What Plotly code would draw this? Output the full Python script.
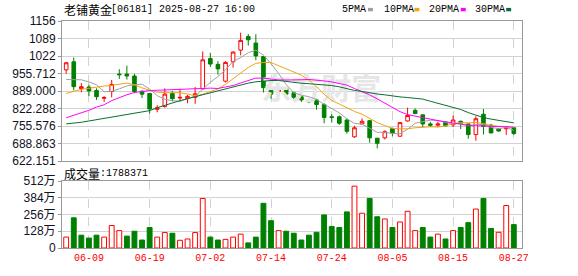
import plotly.graph_objects as go

# ---------------- data ----------------
dates = ["06-04", "06-05", "06-06", "06-09", "06-10", "06-11", "06-12", "06-13", "06-16", "06-17",
         "06-18", "06-19", "06-20", "06-23", "06-24", "06-25", "06-26", "06-27", "06-30", "07-02",
         "07-03", "07-04", "07-07", "07-08", "07-09", "07-10", "07-11", "07-14", "07-15", "07-16",
         "07-17", "07-18", "07-21", "07-22", "07-23", "07-24", "07-25", "07-28", "07-29", "07-30",
         "07-31", "08-01", "08-04", "08-05", "08-06", "08-07", "08-08", "08-11", "08-12", "08-13",
         "08-14", "08-15", "08-18", "08-19", "08-20", "08-21", "08-22", "08-25", "08-26", "08-27"]

opens = [969.8, 1000.6, 898.4, 904.5, 891.0, 862.0, 887.3, 953.8, 953.8, 946.4,
         888.5, 879.9, 819.5, 830.6, 880.0, 862.7, 860.2, 865.1, 897.2, 1013.0,
         990.8, 926.7, 1000.6, 1045.0, 1096.7, 1072.0, 1020.4, 892.2, 887.0, 899.6,
         882.4, 867.6, 855.3, 855.3, 838.0, 791.0, 791.2, 778.9, 714.8, 764.0,
         776.4, 709.9, 711.0, 746.9, 717.3, 775.2, 815.8, 798.6, 764.0, 759.0,
         771.5, 760.4, 774.0, 764.0, 723.4, 801.0, 759.2, 744.4, 745.6, 749.3]
highs = [1000.0, 1016.7, 919.3, 914.4, 899.6, 870.0, 931.6, 972.3, 985.8, 955.0,
         892.0, 882.4, 835.6, 899.6, 889.8, 897.2, 874.9, 904.5, 1040.0, 1035.0,
         1003.0, 1003.0, 1040.0, 1111.5, 1106.6, 1105.4, 1022.0, 902.0, 902.0, 904.5,
         887.3, 872.5, 860.2, 860.2, 843.0, 801.0, 796.0, 785.0, 756.7, 785.0,
         779.0, 710.0, 739.4, 749.3, 771.5, 825.7, 823.2, 798.6, 771.5, 772.7,
         771.5, 796.1, 776.4, 764.0, 793.6, 820.8, 764.0, 746.9, 749.3, 749.3]
lows = [955.0, 892.0, 884.8, 870.0, 855.3, 847.8, 865.0, 935.3, 932.8, 881.0,
        862.8, 803.5, 808.4, 825.7, 850.3, 855.3, 842.9, 840.5, 895.0, 980.8,
        951.4, 922.0, 978.5, 1025.3, 1062.2, 1006.8, 883.6, 859.0, 870.0, 859.0,
        852.8, 847.9, 842.9, 818.3, 766.6, 769.0, 760.4, 727.0, 711.0, 764.0,
        692.8, 670.8, 705.0, 717.3, 714.8, 772.7, 801.0, 751.8, 751.8, 751.8,
        754.0, 751.8, 744.4, 707.4, 700.0, 723.4, 729.6, 734.5, 722.2, 722.2]
closes = [996.9, 905.8, 905.8, 889.8, 867.6, 864.0, 914.4, 951.4, 946.4, 887.3,
          877.4, 820.8, 825.7, 877.4, 860.2, 865.0, 868.8, 878.7, 1008.0, 992.0,
          973.5, 998.2, 1037.6, 1082.0, 1084.4, 1022.8, 902.0, 877.4, 892.0, 877.4,
          865.1, 855.3, 847.9, 838.0, 788.8, 788.8, 766.6, 735.8, 749.3, 774.0,
          711.0, 690.2, 734.5, 729.6, 769.0, 796.1, 803.5, 764.0, 759.0, 764.0,
          756.7, 778.9, 766.6, 723.4, 783.8, 754.2, 729.6, 737.0, 749.3, 727.2]

# volume in shares
volumes = [835000, 2310000, 980000, 760000, 980000, 835000, 1720000, 1330000, 910000, 1280000,
           610000, 1570000, 835000, 1180000, 1130000, 590000, 690000, 1180000, 3790000, 835000,
           610000, 660000, 835000, 1060000, 390000, 835000, 3420000, 2090000, 1330000, 1280000,
           1130000, 610000, 980000, 1200000, 2530000, 1650000, 1570000, 2760000, 4730000, 2660000,
           3790000, 2390000, 2220000, 1570000, 1990000, 2810000, 1330000, 1570000, 835000, 1060000,
           690000, 1330000, 1570000, 1940000, 2980000, 3790000, 1500000, 1200000, 3250000, 1788371]
# volume bar colour: R = up (hollow red), G = down (filled green)
vol_dir = ["R", "G", "G", "G", "G", "R", "R", "R", "G", "G",
           "G", "G", "R", "R", "G", "R", "R", "R", "R", "G",
           "G", "R", "R", "R", "G", "G", "G", "G", "R", "G",
           "G", "G", "G", "G", "G", "G", "G", "G", "R", "R",
           "G", "G", "R", "G", "R", "R", "R", "G", "G", "R",
           "G", "R", "G", "G", "R", "G", "G", "R", "R", "G"]

# moving-average values at the start of the window (need history before the window)
ma5_head = [933.0, 933.0, 932.0, 924.0]
ma10_head = [879.9, 887.3, 896.0, 899.6, 904.5, 908.2, 910.7, 914.4, 919.3]
ma20_head = [787.5, 797.4, 804.7, 815.8, 828.2, 836.8, 852.8, 865.1, 875.0, 883.6,
             888.5, 891.0, 892.2, 893.5, 894.7, 894.7, 895.9, 897.2, 897.2]
ma30_head = [764.1, 766.6, 770.3, 775.2, 780.1, 785.0, 790.0, 793.7, 797.4, 802.3,
             807.2, 814.6, 825.7, 835.6, 845.4, 852.8, 860.2, 867.6, 876.2, 883.6,
             889.8, 897.2, 904.5, 911.9, 919.3, 924.3, 928.0, 929.2, 929.2]

price_ticks = [622.151, 688.863, 755.576, 822.288, 889.000, 955.712, 1022.0, 1089.0, 1155.847]
price_tick_text = ["622.151", "688.863", "755.576", "822.288", "889.000", "955.712", "1022", "1089", "1156"]
vol_ticks = [0, 1280000, 2560000, 3840000, 5120000]
vol_tick_text = ["0", "128万", "256万", "384万", "512万"]
date_ticks = ["06-09", "06-19", "07-02", "07-14", "07-24", "08-05", "08-15", "08-27"]

title_name = "老铺黄金"
title_code = "[06181] 2025-08-27 16:00"
ma_names = ["5PMA", "10PMA", "20PMA", "30PMA"]
ma_colors = ["#a0a0a0", "#f2a30f", "#ff00ff", "#0a6e32"]

# ---------------- build ----------------
N = len(closes)
idx = list(range(N))


def moving_average(n, head):
    out = []
    for i in range(N):
        if i < n - 1:
            out.append(head[i])
        else:
            out.append(sum(closes[i - n + 1:i + 1]) / n)
    return out


mas = [moving_average(5, ma5_head), moving_average(10, ma10_head),
       moving_average(20, ma20_head), moving_average(30, ma30_head)]

RED = "#ff0000"
GREEN = "#008000"

fig = go.Figure()

# faint watermark behind the marks
fig.add_trace(go.Scatter(
    x=[(N - 1) * 0.57], y=[(price_ticks[0] + price_ticks[-1]) / 2],
    mode="text", text=["<b>东方财富</b>"],
    textfont=dict(family="Noto Sans CJK SC", size=30, color="#e6e6e6"),
    hoverinfo="skip", xaxis="x", yaxis="y"))

fig.add_trace(go.Candlestick(
    x=idx, open=opens, high=highs, low=lows, close=closes,
    increasing=dict(line=dict(color=RED, width=1), fillcolor="#ffffff"),
    decreasing=dict(line=dict(color=GREEN, width=1), fillcolor=GREEN),
    whiskerwidth=0, hoverinfo="skip", xaxis="x", yaxis="y"))

for vals, col in zip(mas, ma_colors):
    fig.add_trace(go.Scatter(x=idx, y=vals, mode="lines",
                             line=dict(color=col, width=1),
                             hoverinfo="skip", xaxis="x", yaxis="y"))

fig.add_trace(go.Bar(
    x=idx, y=volumes, width=0.64,
    marker=dict(color=["#ffffff" if d == "R" else GREEN for d in vol_dir],
                line=dict(color=[RED if d == "R" else GREEN for d in vol_dir], width=1)),
    hoverinfo="skip", xaxis="x2", yaxis="y2"))

tick_idx = [dates.index(d) for d in date_ticks]

W, H = 578, 276
ML, MR, MT, MB = 56, 56, 21, 21
PW = W - ML - MR
PH = H - MT - MB


def px_x(x):
    return (x - ML) / PW


def px_y(y):
    return (H - MB - y) / PH


grid = "#d2d2d2"
frame = "#999999"
axis_font = dict(family="Liberation Sans, Arial, Noto Sans CJK SC", size=12, color="#111122")
mono = "Liberation Mono, DejaVu Sans Mono, monospace"

xcommon = dict(range=[-0.55, N + 0.08], tickvals=tick_idx, ticktext=date_ticks,
               showgrid=True, gridcolor=grid, griddash="dash", gridwidth=1,
               showline=True, mirror=True, linecolor=frame, linewidth=1,
               zeroline=False, ticks="", fixedrange=True)

fig.update_layout(
    width=W, height=H,
    margin=dict(l=ML, r=MR, t=MT, b=MB, pad=0),
    paper_bgcolor="#ffffff", plot_bgcolor="#ffffff",
    showlegend=False, boxgap=0.32,
    xaxis=dict(domain=[0, 1], anchor="y", showticklabels=False,
               rangeslider=dict(visible=False), **xcommon),
    xaxis2=dict(domain=[0, 1], anchor="y2", matches="x", showticklabels=True,
                tickfont=dict(family=mono, size=10, color=RED), **xcommon),
    yaxis=dict(domain=[px_y(165.5), 1], range=[price_ticks[0], price_ticks[-1]],
               tickvals=price_ticks, ticktext=price_tick_text, tickfont=axis_font,
               showgrid=True, gridcolor=grid, showline=True, mirror=True,
               linecolor=frame, zeroline=False, ticks="outside", ticklen=3,
               tickcolor=frame, fixedrange=True),
    yaxis2=dict(domain=[0, px_y(186)], range=[0, vol_ticks[-1]],
                tickvals=vol_ticks, ticktext=vol_tick_text, tickfont=axis_font,
                showgrid=True, gridcolor=grid, showline=True, mirror=True,
                linecolor=frame, zeroline=False, ticks="outside", ticklen=3,
                tickcolor=frame, fixedrange=True),
)

ann = []
shapes = []
# title
ann.append(dict(text=title_name, x=px_x(56), y=px_y(9), xref="paper", yref="paper",
                xanchor="left", yanchor="middle", showarrow=False,
                font=dict(family="Noto Sans CJK SC", size=12, color="#000000")))
ann.append(dict(text=title_code, x=px_x(104), y=px_y(9), xref="paper", yref="paper",
                xanchor="left", yanchor="middle", showarrow=False,
                font=dict(family=mono, size=10, color="#000000")))
# volume caption
ann.append(dict(text="成交量", x=px_x(56), y=px_y(178), xref="paper", yref="paper",
                xanchor="left", yanchor="middle", showarrow=False,
                font=dict(family="Noto Sans CJK SC", size=12, color="#000000")))
ann.append(dict(text=":" + str(volumes[-1]), x=px_x(92), y=px_y(178), xref="paper", yref="paper",
                xanchor="left", yanchor="middle", showarrow=False,
                font=dict(family=mono, size=10, color="#000000")))
# legend
leg_text_x = [338, 380, 426, 472]
leg_chip_x = [366, 413, 460, 506]
for name, col, tx, cx in zip(ma_names, ma_colors, leg_text_x, leg_chip_x):
    ann.append(dict(text=name, x=px_x(tx), y=px_y(9), xref="paper", yref="paper",
                    xanchor="left", yanchor="middle", showarrow=False,
                    font=dict(family=mono, size=10, color="#000000")))
    shapes.append(dict(type="rect", xref="paper", yref="paper",
                       x0=px_x(cx), x1=px_x(cx + 5), y0=px_y(11), y1=px_y(7.5),
                       fillcolor=col, line=dict(width=0)))

fig.update_layout(annotations=ann, shapes=shapes)

fig.write_html("out.html")
